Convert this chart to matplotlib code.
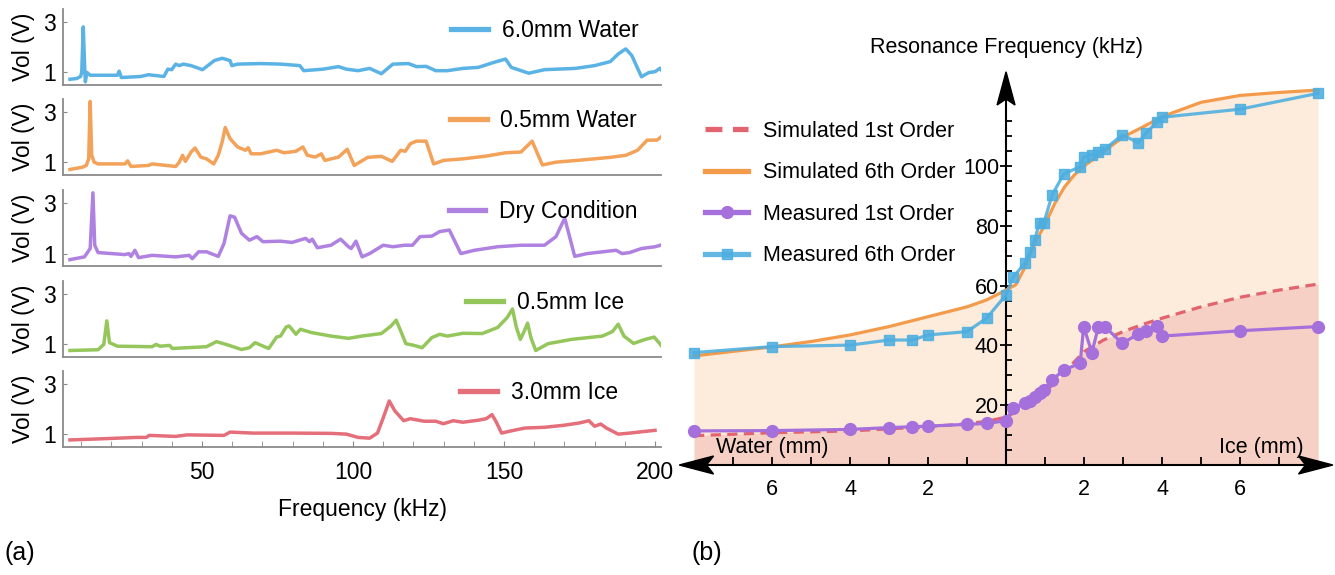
import numpy as np
import matplotlib
matplotlib.use('Agg')
import matplotlib.pyplot as plt
from matplotlib.patches import Polygon

plt.rcParams['font.family'] = ['Liberation Sans', 'DejaVu Sans']

# ---------------- panel (a) data: frequency (kHz) / voltage (V) ----------------
freq_water6 = [6.3, 8.5, 9.8, 10.2, 10.7, 11.2, 11.4, 11.9, 13.0, 22.0, 22.6, 23.3, 29.7, 32.3, 37.4, 38.7, 40.0,
               41.3, 42.5, 43.8, 46.4, 50.2, 54.1, 56.7, 59.3, 59.9, 61.8, 69.5, 76.0, 82.4, 83.7, 90.1, 95.2,
               97.8, 101.7, 105.5, 109.4, 113.2, 118.4, 121.0, 124.2, 127.4, 131.2, 136.4, 141.5, 146.7, 150.5,
               152.4, 158.2, 163.4, 173.6, 180.0, 185.2, 187.8, 190.3, 192.3, 195.5, 198.0, 200.0, 201.7, 203.0]
vol_water6 = [0.73, 0.76, 0.84, 1.0, 2.8, 1.13, 0.63, 1.0, 0.89, 0.89, 1.05, 0.8, 0.84, 0.91, 0.84, 1.13, 1.11,
              1.33, 1.27, 1.33, 1.27, 1.11, 1.47, 1.56, 1.47, 1.27, 1.33, 1.35, 1.33, 1.27, 1.07, 1.13, 1.23,
              1.13, 1.07, 1.16, 0.95, 1.33, 1.35, 1.23, 1.24, 1.07, 1.07, 1.16, 1.2, 1.4, 1.53,
              1.2, 0.97, 1.11, 1.16, 1.27, 1.43, 1.73, 1.93, 1.67, 0.83, 1.0, 1.03, 1.17, 0.93]

freq_water05 = [6.3, 10.4, 11.7, 12.5, 13.0, 13.5, 14.3, 15.6, 24.5, 25.4, 26.5, 32.3, 33.5, 41.3, 42.5, 43.6,
                44.5, 46.4, 47.7, 49.6, 51.5, 53.9, 55.4, 56.7, 57.7, 59.3, 61.8, 64.4, 65.3, 66.3, 69.5, 74.7,
                77.2, 81.1, 83.4, 84.9, 87.5, 89.5, 90.7, 95.2, 98.1, 100.4, 104.9, 109.4, 113.0, 115.8, 117.3,
                119.0, 121.0, 124.2, 126.7, 130.0, 136.4, 144.1, 150.5, 155.6, 159.3, 162.7, 167.2, 176.2, 185.2,
                190.3, 194.2, 197.4, 200.6, 203.0]
vol_water05 = [0.71, 0.8, 0.87, 1.13, 3.4, 1.27, 1.0, 0.93, 0.93, 1.05, 0.83, 0.87, 0.93, 0.83, 1.0, 1.27,
               1.03, 1.4, 1.56, 1.2, 1.13, 0.93, 1.27, 1.8, 2.37, 1.93, 1.6, 1.47, 1.57, 1.33, 1.33, 1.47,
               1.37, 1.43, 1.6, 1.27, 1.2, 1.33, 1.07, 1.2, 1.51, 0.87, 1.19, 1.23, 1.03, 1.47, 1.43,
               1.73, 1.83, 1.83, 0.93, 1.07, 1.13, 1.24, 1.37, 1.4, 1.83, 0.89, 1.0, 1.09, 1.19,
               1.27, 1.47, 1.87, 1.87, 2.09]

freq_dry = [6.3, 11.1, 13.0, 13.9, 14.5, 15.6, 24.5, 25.8, 26.5, 27.8, 29.0, 33.5, 41.3, 45.8, 46.8, 48.9, 51.5,
            55.4, 57.3, 59.3, 60.8, 63.1, 65.7, 68.2, 70.2, 76.0, 79.8, 84.3, 85.6, 86.5, 88.2, 92.7, 95.9, 98.5,
            99.4, 101.0, 103.0, 105.5, 110.0, 113.2, 117.1, 119.7, 122.2, 126.1, 128.7, 131.9, 135.7, 140.2,
            147.9, 155.6, 163.4, 167.2, 170.1, 171.7, 173.4, 177.5, 187.1, 189.1, 191.6, 195.5, 200.0, 203.0]
vol_dry = [0.76, 0.87, 1.2, 3.4, 1.33, 1.04, 0.96, 1.0, 0.89, 1.13, 0.84, 0.93, 0.87, 0.93, 0.8, 1.07, 1.07,
           0.89, 1.4, 2.49, 2.44, 1.8, 1.53, 1.67, 1.47, 1.49, 1.44, 1.6, 1.47, 1.57, 1.23, 1.33, 1.57, 1.27,
           1.2, 1.49, 0.87, 1.0, 1.33, 1.27, 1.33, 1.33, 1.67, 1.69, 1.87, 1.93, 1.0, 1.13,
           1.27, 1.33, 1.33, 1.67, 2.4, 1.67, 0.89, 1.0, 1.13, 1.0, 1.04, 1.2, 1.27, 1.37]

freq_ice05 = [6.3, 15.6, 17.5, 18.5, 19.4, 22.0, 33.5, 34.8, 36.1, 39.3, 40.2, 51.5, 54.8, 58.0, 63.1, 65.7,
              67.6, 69.5, 72.1, 74.7, 76.0, 77.9, 78.8, 79.8, 81.1, 82.6, 86.2, 92.7, 98.5, 102.9, 109.4, 112.6,
              114.3, 115.8, 117.5, 120.3, 122.9, 126.1, 128.7, 131.2, 136.4, 142.8, 147.9, 151.1, 152.8, 154.1,
              155.4, 156.5, 157.8, 158.9, 160.5, 164.6, 172.4, 182.6, 185.9, 187.8, 189.7, 192.9, 196.8, 199.7,
              201.3, 203.0]
vol_ice05 = [0.76, 0.79, 1.0, 1.93, 1.07, 0.93, 0.91, 1.0, 0.93, 0.96, 0.84, 0.91, 1.11, 1.0, 0.8, 0.87,
             1.07, 0.97, 0.84, 1.29, 1.33, 1.69, 1.73, 1.6, 1.4, 1.6, 1.47, 1.33, 1.24, 1.33, 1.43, 1.73,
             1.96, 1.53, 1.03, 0.96, 0.87, 1.27, 1.4, 1.33, 1.44, 1.43, 1.67, 2.07, 2.4, 1.67,
             1.2, 1.47, 1.84, 1.27, 0.76, 1.03, 1.2, 1.33, 1.51, 1.8, 1.33, 1.04, 1.2, 1.29,
             1.07, 0.8]

freq_ice3 = [6.3, 15.6, 28.4, 31.6, 32.5, 41.3, 45.1, 57.3, 59.3, 67.0, 79.8, 92.7, 97.8, 101.7, 105.5, 108.1,
             110.0, 112.0, 113.9, 116.8, 119.0, 123.5, 127.4, 129.9, 133.2, 136.4, 141.5, 144.1, 146.0, 147.3,
             149.2, 152.4, 156.9, 163.4, 169.8, 174.9, 178.1, 180.0, 182.0, 183.9, 187.8, 191.6, 196.8, 200.0]
vol_ice3 = [0.77, 0.81, 0.87, 0.87, 0.95, 0.91, 0.97, 0.95, 1.08, 1.04, 1.04, 1.03, 1.0, 0.87, 0.84, 1.04,
            1.64, 2.31, 1.91, 1.53, 1.61, 1.51, 1.51, 1.41, 1.53, 1.47, 1.55, 1.61, 1.77, 1.51,
            1.04, 1.13, 1.24, 1.27, 1.35, 1.44, 1.53, 1.31, 1.4, 1.24, 1.0, 1.04, 1.11, 1.15]

labels_a = ['6.0mm Water', '0.5mm Water', 'Dry Condition', '0.5mm Ice', '3.0mm Ice']
colors_a = ['#4cade2', '#f39a4c', '#a877df', '#8cc24e', '#e2636f']
freq_ticks = [50, 100, 150, 200]

# ---------------- panel (b) data: thickness (mm) / resonance frequency (kHz) ----------------
meas_water_mm = [8, 6, 4, 3, 2.4, 2, 1, 0.5, 0]
meas_ice_mm = [0.18, 0.48, 0.62, 0.73, 0.86, 0.97, 1.18, 1.48, 1.9, 1.99, 2.2, 2.37, 2.53, 2.98, 3.39,
               3.6, 3.87, 4.0, 6.0, 8.0]
meas1_water = [11.4, 11.5, 11.9, 12.5, 12.8, 13.0, 13.6, 13.9, 14.8]
meas1_ice = [19.0, 20.6, 21.5, 22.6, 24.2, 25.1, 28.4, 31.8, 34.0, 46.3, 37.6, 46.3, 46.3, 40.7, 43.8,
             44.9, 46.5, 43.1, 44.9, 46.3]
meas6_water = [37.6, 39.6, 40.1, 41.8, 41.8, 43.5, 44.6, 49.1, 56.9]
meas6_ice = [62.8, 67.5, 71.3, 75.3, 81.0, 81.0, 90.3, 97.3, 99.8, 103.1, 103.7, 104.7, 105.6, 110.4, 107.8,
             111.1, 114.8, 116.3, 119.0, 124.3]

sim_water_mm = [8, 7, 6, 5, 4, 3, 2, 1, 0.5, 0]
sim_ice_mm = [0.25, 0.5, 0.75, 1, 1.25, 1.5, 1.75, 2, 2.5, 3, 3.5, 4, 5, 6, 7, 8]
sim1_water = [9.8, 10.3, 10.8, 11.1, 11.4, 12.1, 12.8, 13.8, 14.6, 16.0]
sim1_ice = [17.8, 19.7, 22.0, 24.5, 27.5, 30.7, 34.5, 37.9, 41.8, 44.6, 47.0, 49.1, 52.9, 56.1, 58.5, 60.5]
sim6_water = [36.5, 38.0, 39.5, 41.3, 43.5, 46.3, 49.6, 52.9, 55.2, 58.5]
sim6_ice = [60.3, 66.5, 74.5, 80.5, 87.5, 93.0, 97.0, 100.0, 104.8, 109.7, 113.0, 116.5, 121.3, 123.6,
            124.6, 125.4]

labels_b = ['Simulated 1st Order', 'Simulated 6th Order', 'Measured 1st Order', 'Measured 6th Order']
colors_b = ['#e3636f', '#f39b4b', '#a56fdc', '#4daee0']
thick_ticks = [2, 4, 6]

# ---------------- figure ----------------
fig = plt.figure(figsize=(13.35, 5.75), dpi=100)
FS_A = 16.5
FS_B = 15.5
gray = '#8a8a8a'

series_a = [(freq_water6, vol_water6), (freq_water05, vol_water05), (freq_dry, vol_dry),
            (freq_ice05, vol_ice05), (freq_ice3, vol_ice3)]
bottoms = [0.852, 0.696, 0.537, 0.379, 0.223]
leg_x = [0.649, 0.647, 0.645, 0.674, 0.664]

for i, ((f, v), lab, col) in enumerate(zip(series_a, labels_a, colors_a)):
    ax = fig.add_axes([0.0472, bottoms[i], 0.448, 0.132])
    ax.plot(f, v, color=col, lw=2.5, alpha=0.92, solid_joinstyle='round', label=lab)
    ax.set_xlim(4, 202)
    ax.set_ylim(0.5, 3.5)
    for s in ['top', 'right']:
        ax.spines[s].set_visible(False)
    for s in ['left', 'bottom']:
        ax.spines[s].set_color(gray)
        ax.spines[s].set_linewidth(1.3)
    ax.set_yticks([1, 3])
    ax.set_yticklabels(['1', '3'])
    ax.tick_params(axis='y', direction='in', length=3, color=gray, pad=5, labelsize=FS_A)
    ax.set_ylabel('Vol (V)', fontsize=FS_A, labelpad=6)
    if i < 4:
        ax.set_xticks([])
    else:
        ax.set_xticks(freq_ticks)
        ax.set_xticks(np.arange(10, 201, 10), minor=True)
        ax.tick_params(axis='x', which='both', direction='in', length=4, color=gray, pad=10,
                       labelsize=FS_A)
        ax.set_xlabel('Frequency (kHz)', fontsize=FS_A, labelpad=10)
    leg = ax.legend(loc='center left', bbox_to_anchor=(leg_x[i], 0.72), frameon=False, fontsize=FS_A,
                    handlelength=1.6, handletextpad=0.6, borderpad=0, borderaxespad=0)
    for ln in leg.get_lines():
        ln.set_linewidth(3.8)

# ---------------- panel (b) ----------------
axb = fig.add_axes([0.5082, 0.1497, 0.4908, 0.728])
axb.set_xlim(-8.4, 8.4)
axb.set_ylim(-8, 132)

x_sim = [-w for w in sim_water_mm] + list(sim_ice_mm)
y_sim1 = list(sim1_water) + list(sim1_ice)
y_sim6 = list(sim6_water) + list(sim6_ice)
x_meas = [-w for w in meas_water_mm] + list(meas_ice_mm)
y_meas1 = list(meas1_water) + list(meas1_ice)
y_meas6 = list(meas6_water) + list(meas6_ice)

axb.fill_between(x_sim, 0, y_sim6, color='#fdebdb', lw=0, zorder=1)
axb.fill_between(x_sim, 0, y_sim1, color='#f6d0c4', lw=0, zorder=1.1)
axb.plot(x_sim, y_sim1, color=colors_b[0], lw=2.3, ls=(0, (3.2, 2.0)), zorder=3, label=labels_b[0])
axb.plot(x_sim, y_sim6, color=colors_b[1], lw=2.3, zorder=3, label=labels_b[1])
axb.plot(x_meas, y_meas1, color=colors_b[2], lw=2.3, marker='o', ms=8.5, zorder=4, label=labels_b[2])
axb.plot(x_meas, y_meas6, color=colors_b[3], lw=2.3, marker='s', ms=6.5, alpha=0.88, zorder=5,
         label=labels_b[3])

for s in ['top', 'right']:
    axb.spines[s].set_visible(False)
axb.spines['left'].set_position(('data', 0))
axb.spines['bottom'].set_position(('data', 0))
axb.spines['left'].set_bounds(0, 122)
axb.spines['bottom'].set_bounds(-7.9, 7.9)
for s in ['left', 'bottom']:
    axb.spines[s].set_linewidth(1.5)
    axb.spines[s].set_color('black')
    axb.spines[s].set_zorder(2)

axb.set_yticks([20, 40, 60, 80, 100])
axb.set_yticks([v for v in range(5, 120, 5) if v % 20 != 0], minor=True)
xt = [-t for t in thick_ticks[::-1]] + thick_ticks
axb.set_xticks(xt)
axb.set_xticklabels([str(abs(t)) for t in xt])
axb.set_xticks([-7, -5, -3, -1, 1, 3, 5, 7], minor=True)
axb.tick_params(axis='y', which='major', direction='inout', length=8, width=1.3, pad=1, labelsize=FS_B)
axb.tick_params(axis='y', which='minor', direction='in', length=4, width=1.3)
axb.tick_params(axis='x', which='both', direction='in', length=5.5, width=1.3, pad=10, labelsize=FS_B)

# arrowheads
arrow_r = Polygon([[8.38, 0], [7.5, 3.0], [7.68, 0], [7.5, -3.0]], closed=True, color='black',
                  zorder=6, clip_on=False)
arrow_l = Polygon([[-8.38, 0], [-7.5, 3.0], [-7.68, 0], [-7.5, -3.0]], closed=True, color='black',
                  zorder=6, clip_on=False)
arrow_t = Polygon([[0, 131.5], [0.23, 120.4], [0, 122.4], [-0.23, 120.4]], closed=True, color='black',
                  zorder=6, clip_on=False)
for p in (arrow_r, arrow_l, arrow_t):
    axb.add_patch(p)

axb.text(-7.44, 6.0, 'Water (mm)', ha='left', va='center', fontsize=FS_B, zorder=7)
axb.text(7.64, 6.0, 'Ice (mm)', ha='right', va='center', fontsize=FS_B, zorder=7)
fig.text(1006 / 1335, 1 - 47 / 575, 'Resonance Frequency (kHz)', ha='center', va='center', fontsize=FS_B)

legb = axb.legend(loc='upper left', bbox_to_anchor=(0.0406, 0.879), frameon=False, fontsize=FS_B,
                  handlelength=2.0, handletextpad=0.7, labelspacing=0.95, borderpad=0, borderaxespad=0)
for ln in legb.get_lines():
    ln.set_linewidth(3.8)

fig.text(5 / 1335, 1 - 553 / 575, '(a)', ha='left', va='center', fontsize=18)
fig.text(692 / 1335, 1 - 553 / 575, '(b)', ha='left', va='center', fontsize=18)

fig.savefig('out.png', dpi=100)
